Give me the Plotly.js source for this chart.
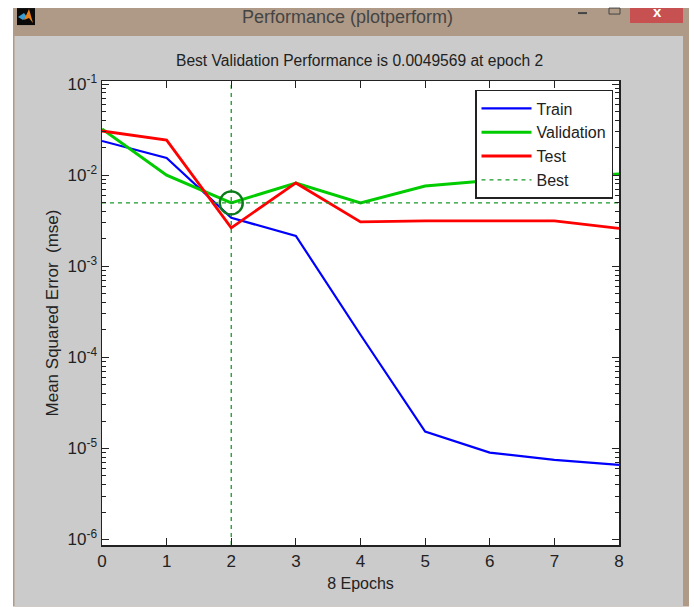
<!DOCTYPE html>
<html><head><meta charset="utf-8">
<script src="https://cdn.plot.ly/plotly-3.0.1.min.js"></script>
<style>html,body{margin:0;padding:0;background:#fff;overflow:hidden}#p{width:694px;height:607px}</style>
</head><body><div id="p"></div>
<script>
const W=694,H=607;
const epochs=[0,1,2,3,4,5,6,7,8];
const train=[0.0237,0.01545,0.0034,0.00215,0.000177,0.0000153,0.000009,0.0000075,0.0000066];
const validation=[0.0321,0.01,0.0049569,0.0082,0.00496,0.0076,0.0087,0.0095,0.0103];
const test=[0.0305,0.0242,0.00264,0.0082,0.00307,0.00315,0.00315,0.00315,0.0026];
const bestEpoch=2,bestPerf=0.0049569;
const yTicks=[1e-1,1e-2,1e-3,1e-4,1e-5,1e-6];
const yTickText=['10<sup>-1</sup>','10<sup>-2</sup>','10<sup>-3</sup>','10<sup>-4</sup>','10<sup>-5</sup>','10<sup>-6</sup>'];
const minorTicks=[];
for(const d of [1e-2,1e-3,1e-4,1e-5,1e-6]){for(const m of [2,3,4,5,6,7,8,9]){minorTicks.push(m*d);}}
const pl=102,pr=619,pt=81,pb=545.5;
const FONT='"Liberation Sans",Arial,sans-serif';
const TXT='#222';
const px=x=>(x-pl)/(pr-pl), py=y=>(pb-y)/(pb-pt);
const rect=(x0,y0,x1,y1,c)=>({type:'rect',xref:'paper',yref:'paper',x0:px(x0),x1:px(x1),y0:py(y0),y1:py(y1),fillcolor:c,line:{width:0},layer:'below'});
const poly=(pts,c)=>({type:'path',xref:'paper',yref:'paper',path:'M'+pts.map(p=>px(p[0])+','+py(p[1])).join('L')+'Z',fillcolor:c,line:{width:0},layer:'below'});
const yTop=Math.pow(10,-0.967),yBot=Math.pow(10,-6.06);
const traces=[
 {x:epochs,y:train,name:'Train',mode:'lines',line:{color:'#0000ff',width:2.2}},
 {x:epochs,y:validation,name:'Validation',mode:'lines',line:{color:'#00cc00',width:3}},
 {x:epochs,y:test,name:'Test',mode:'lines',line:{color:'#ff0000',width:2.8}},
 {x:[0,8,null,bestEpoch,bestEpoch],y:[bestPerf,bestPerf,null,yBot,yTop],name:'Best',mode:'lines',line:{color:'#1a9a2a',width:1.3,dash:'4px,4px'}},
 {x:[bestEpoch],y:[bestPerf],mode:'markers',showlegend:false,marker:{symbol:'circle-open',size:23,color:'#0a7a1a',line:{width:2.4,color:'#0a7a1a'}}}
];
const layout={
 width:W,height:H,showlegend:true,
 margin:{l:pl,r:W-pr,t:pt,b:H-pb,pad:0},
 paper_bgcolor:'#ffffff',plot_bgcolor:'#ffffff',
 font:{family:FONT,size:16,color:TXT},
 xaxis:{range:[0,8],tickmode:'array',tickvals:epochs,ticktext:epochs.map(String),ticks:'inside',ticklen:7,tickwidth:1,tickcolor:'#222',
   mirror:'ticks',showline:true,linecolor:'#222',linewidth:1.5,showgrid:false,zeroline:false,tickfont:{size:17,family:FONT,color:TXT},
   title:{text:'8 Epochs',font:{size:16,family:FONT,color:TXT},standoff:8}},
 yaxis:{type:'log',range:[-6.06,-0.967],tickmode:'array',tickvals:yTicks,ticktext:yTickText,ticks:'inside',ticklen:7,tickwidth:1,tickcolor:'#222',
   mirror:'ticks',showline:true,linecolor:'#222',linewidth:1.5,showgrid:false,zeroline:false,tickfont:{size:17,family:FONT,color:TXT},
   minor:{tickmode:'array',tickvals:minorTicks,ticks:'inside',ticklen:4,tickwidth:1,tickcolor:'#222',showgrid:false},
   title:{text:'Mean Squared Error  (mse)',font:{size:17,family:FONT,color:TXT},standoff:4}},
 legend:{x:px(475),y:py(90),xanchor:'left',yanchor:'top',bgcolor:'#fff',bordercolor:'#222',borderwidth:1.5,font:{size:16,family:FONT,color:TXT},itemwidth:50,tracegroupgap:0},
 shapes:[
  rect(13,8,689,607,'#ae9a87'),
  rect(14.5,36,683,607,'#cbcbcb'),
  rect(pl,pt,pr,pb,'#ffffff'),
  rect(630,8,683,23,'#c75050'),
  rect(17,8,35,25,'#0a0a0a'),
  poly([[18,17],[24,13],[27,17],[23,20]],'#3a9fd0'),
  poly([[24,20],[29,9],[33,23],[29,18]],'#e8801c'),
  rect(578,12,587,14,'#444444'),
  {type:'rect',xref:'paper',yref:'paper',x0:px(609),x1:px(620),y0:py(8),y1:py(14),line:{width:1,color:'#444444'},layer:'below'},
 ],
 annotations:[
  {xref:'paper',yref:'paper',x:px(347.5),y:py(17),xanchor:'center',yanchor:'middle',text:'Performance (plotperform)',showarrow:false,font:{size:18,family:FONT,color:'#444'}},
  {xref:'paper',yref:'paper',x:px(359.5),y:py(60.5),xanchor:'center',yanchor:'middle',text:'Best Validation Performance is 0.0049569 at epoch 2',showarrow:false,font:{size:15.6,family:FONT,color:TXT}},
  {xref:'paper',yref:'paper',x:px(657),y:py(11),xanchor:'center',yanchor:'middle',text:'<b>x</b>',showarrow:false,font:{size:15,family:FONT,color:'#fff'}}
 ]
};
Plotly.newPlot('p',traces,layout,{displayModeBar:false,staticPlot:true});
</script></body></html>
